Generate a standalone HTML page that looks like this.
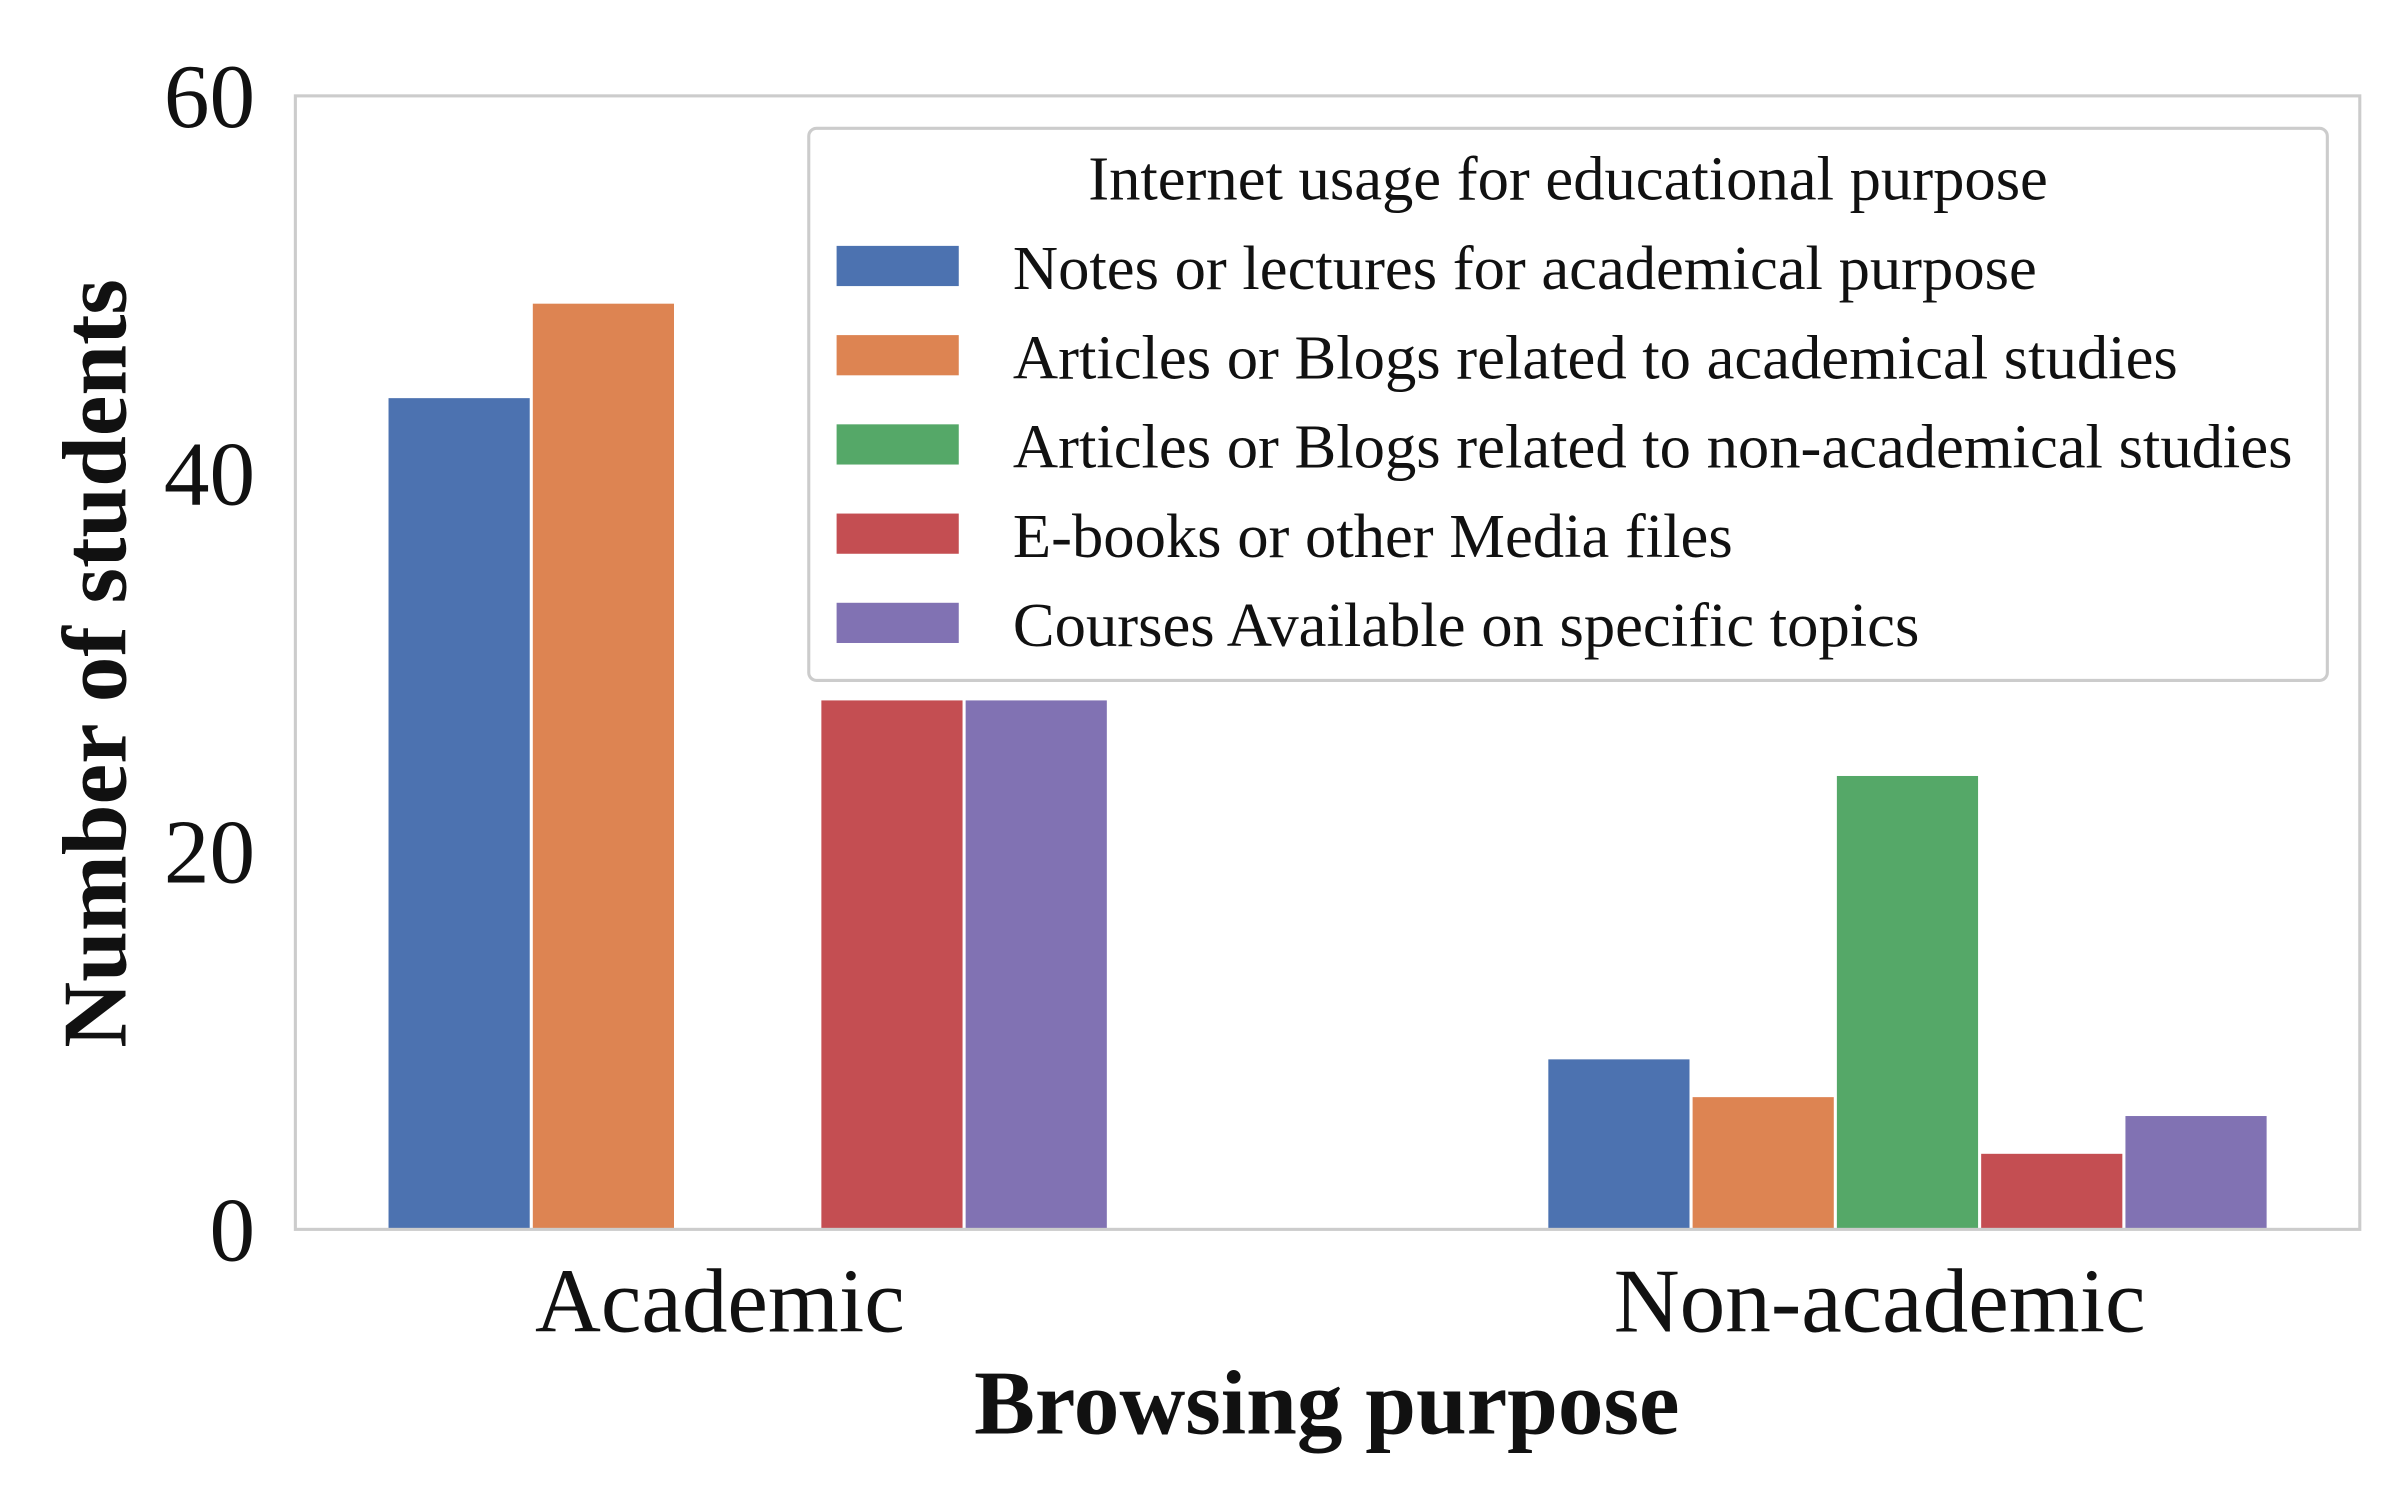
<!DOCTYPE html>
<html><head><meta charset="utf-8"><style>
html,body{margin:0;padding:0;background:#fff;}
svg{display:block;}
text{font-family:"Liberation Serif",serif;fill:#111;}
</style></head><body>
<svg id="chart" width="2400" height="1500" viewBox="0 0 1552 970" xmlns="http://www.w3.org/2000/svg">
<rect x="0" y="0" width="1552" height="970" fill="#fff"/>
<g id="bars"></g>
<rect x="191" y="62" width="1335" height="733" fill="none" stroke="#cccccc" stroke-width="2"/>
<g id="yticks"></g>
<g id="xticks"></g>
<text x="858" y="927" font-size="59" font-weight="bold" text-anchor="middle">Browsing purpose</text>
<text transform="translate(81,429) rotate(-90)" font-size="59" font-weight="bold" text-anchor="middle">Number of students</text>
<g>
<rect x="523" y="83" width="982" height="357" rx="5" fill="#fff" fill-opacity="0.85" stroke="#cccccc" stroke-width="2"/>
<text x="1014" y="129" font-size="40.5" text-anchor="middle">Internet usage for educational purpose</text>
<g id="legend-entries"></g>
</g>
</svg>
<script>
const categories = ["Academic", "Non-academic"];
const seriesNames = ["Notes or lectures for academical purpose","Articles or Blogs related to academical studies","Articles or Blogs related to non-academical studies","E-books or other Media files","Courses Available on specific topics"];
const colors = ["#4c72b0","#dd8452","#55a868","#c44e52","#8172b3"];
const notesValues = [44, 9];
const articlesAcadValues = [49, 7];
const articlesNonAcadValues = [0, 24];
const ebooksValues = [28, 4];
const coursesValues = [28, 6];
const yTicks = [0, 20, 40, 60];
const series = [notesValues, articlesAcadValues, articlesNonAcadValues, ebooksValues, coursesValues];

const NS = "http://www.w3.org/2000/svg";
const plotL = 191, plotR = 1526, plotT = 62, plotB = 795;
const yMax = 60;
const xMin = -0.39, xMax = 1.39;
function yScale(v){ return plotB - (v / yMax) * (plotB - plotT); }
function xCenter(i){ return plotL + (i - xMin) / (xMax - xMin) * (plotR - plotL); }
const barW = 93.3;

const barsG = document.getElementById('bars');
series.forEach((vals, s) => {
  vals.forEach((v, c) => {
    const r = document.createElementNS(NS, 'rect');
    const x = xCenter(c) + (s - 2.5) * barW;
    r.setAttribute('x', x + 1);
    r.setAttribute('y', yScale(v));
    r.setAttribute('width', barW - 2);
    r.setAttribute('height', plotB - yScale(v));
    r.setAttribute('fill', colors[s]);
    
    
    barsG.appendChild(r);
  });
});

const yG = document.getElementById('yticks');
yTicks.forEach(t => {
  const tx = document.createElementNS(NS, 'text');
  tx.setAttribute('x', 165);
  tx.setAttribute('y', yScale(t) + 20);
  tx.setAttribute('font-size', '59');
  tx.setAttribute('text-anchor', 'end');
  tx.textContent = t;
  
  
  yG.appendChild(tx);
});

const xG = document.getElementById('xticks');
categories.forEach((c, i) => {
  const tx = document.createElementNS(NS, 'text');
  tx.setAttribute('x', xCenter(i) - 18);
  tx.setAttribute('y', 861);
  tx.setAttribute('font-size', '59');
  tx.setAttribute('text-anchor', 'middle');
  tx.textContent = c;
  
  
  xG.appendChild(tx);
});

const lg = document.getElementById('legend-entries');
seriesNames.forEach((n, i) => {
  const y = 172 + i * 57.7;
  const r = document.createElementNS(NS, 'rect');
  r.setAttribute('x', 541); r.setAttribute('y', y - 13);
  r.setAttribute('width', 79); r.setAttribute('height', 26);
  r.setAttribute('fill', colors[i]);
  
  
  lg.appendChild(r);
  const t = document.createElementNS(NS, 'text');
  t.setAttribute('x', 655); t.setAttribute('y', y + 15);
  t.setAttribute('font-size', '40.5');
  t.textContent = n;
  
  
  lg.appendChild(t);
});
</script>
</body></html>
